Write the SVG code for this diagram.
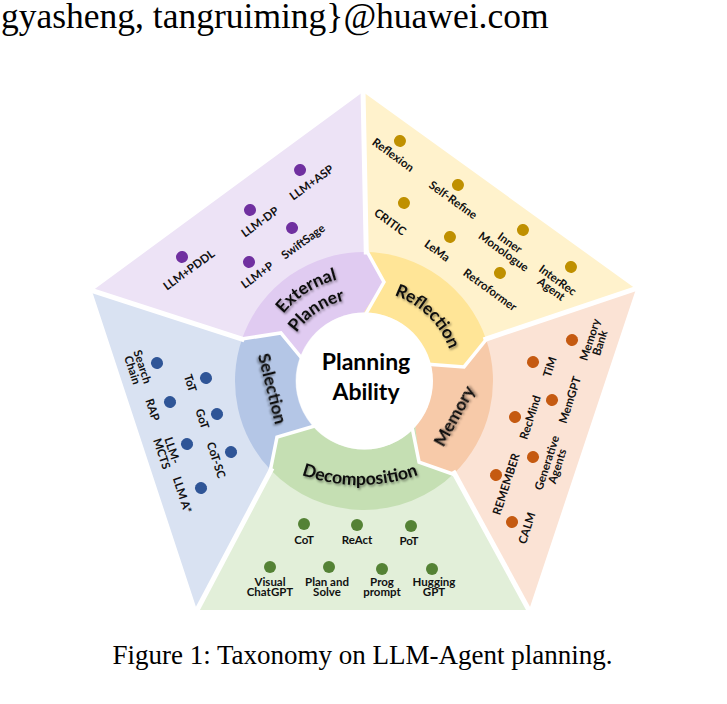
<svg xmlns="http://www.w3.org/2000/svg" width="727" height="704" viewBox="0 0 727 704">
<defs>
<style>
.lbl{font-family:Lato,"Open Sans","Liberation Sans",sans-serif;font-weight:700;font-size:11.5px;fill:#111;text-anchor:middle}
.ring{font-family:Lato,"Open Sans","Liberation Sans",sans-serif;font-weight:700;font-size:17.5px;fill:#111;text-anchor:middle;filter:url(#sh)}
.hub{font-family:Lato,"Open Sans","Liberation Sans",sans-serif;font-weight:700;font-size:23px;fill:#000;text-anchor:middle}
.serif{font-family:"Liberation Serif","Times New Roman",serif;fill:#000}
.gap{fill:none;stroke:#fff;stroke-width:5;stroke-linecap:square}
.bnd{fill:none;stroke:#fff;stroke-width:3.5;stroke-linejoin:miter}
.dE{fill:#7030a0}.dR{fill:#bf9000}.dM{fill:#c55a11}.dD{fill:#548235}.dS{fill:#2f5597}
</style>
<filter id="sh" x="-20%" y="-40%" width="140%" height="180%">
<feDropShadow dx="1.2" dy="1.6" stdDeviation="1.2" flood-color="#000" flood-opacity="0.45"/>
</filter>
<path id="pExt" d="M 259.1,385.6 A 105 105 0 0 1 412.5,287.9"/>
<path id="pPlan" d="M 281.2,386.8 A 83 83 0 0 1 400.4,306.4"/>
<path id="pRef" d="M 339.7,293.3 A 91 91 0 0 1 452.1,403.8"/>
<path id="pDec" d="M 290,470.2 A 173 173 0 0 0 430,470.2"/>
</defs>
<rect width="727" height="704" fill="#fff"/>
<text class="serif" x="1" y="28" font-size="35.5">gyasheng, tangruiming}@huawei.com</text>

<g id="regions">
<polygon id="region-external" fill="#ede3f6" points="92,291 363,92 366.25,252 364,381 242,339"/>
<polygon id="region-reflection" fill="#fff2cc" points="363,92 636,289 486,339 364,381 366.25,252"/>
<polygon id="region-memory" fill="#fbe3d5" points="636,289 529,610 454.3,473.2 364,381 486,339"/>
<polygon id="region-decomposition" fill="#e2efd9" points="529,610 197,610 270.9,470.3 364,381 454.3,473.2"/>
<polygon id="region-selection" fill="#d9e2f2" points="197,610 92,291 242,339 364,381 270.9,470.3"/>
</g>

<g id="ring">
<path id="seg-memory" fill="#f7caa9" d="M 485.97,339 A 129 129 0 0 1 454.26,473.17 L 419.08,462.06 L 415.31,426.39 A 68.5 68.5 0 0 0 430.64,365.13 L 464,366.94 Z"/>
<path id="seg-decomposition" fill="#c5dfb3" d="M 454.26,473.17 A 129 129 0 0 1 270.89,470.28 L 277,437.07 L 312.69,426.39 A 68.5 68.5 0 0 0 415.31,426.39 L 419.08,462.06 Z"/>
<path id="seg-selection" fill="#b4c6e6" d="M 270.89,470.28 A 129 129 0 0 1 242.03,339 L 280.86,333 L 300.05,356.45 A 68.5 68.5 0 0 0 312.69,426.39 L 277,437.07 Z"/>
<path id="seg-external" fill="#e0cbf1" d="M 242.03,339 A 129 129 0 0 1 366.25,252.02 L 383.96,282 L 364,312.5 A 68.5 68.5 0 0 0 300.05,356.45 L 280.86,333 Z"/>
<path id="seg-reflection" fill="#ffe597" d="M 366.25,252.02 A 129 129 0 0 1 485.97,339 L 464,366.94 L 430.64,365.13 A 68.5 68.5 0 0 0 364,312.5 L 383.96,282 Z"/>
</g>

<g id="gaps">
<line class="gap" x1="363" y1="90" x2="366.25" y2="252"/>
<line class="gap" x1="638" y1="288" x2="485.97" y2="339"/>
<line class="gap" x1="530" y1="612" x2="454.26" y2="473.17"/>
<line class="gap" x1="196" y1="612" x2="270.89" y2="470.28"/>
<line class="gap" x1="90" y1="290" x2="242.03" y2="339"/>
<polyline class="bnd" points="366.25,250 383.96,282 363.5,318"/>
<polyline class="bnd" points="487,338.5 464,366.94 425,364"/>
<polyline class="bnd" points="455.5,475 419.08,462.06 411,422"/>
<polyline class="bnd" points="270,472 277,437.07 318,425"/>
<polyline class="bnd" points="240,339.3 280.86,333 304,361"/>
</g>

<g id="hub">
<circle cx="364.5" cy="381" r="68.5" fill="#fff"/>
<text class="hub" x="366" y="370">Planning</text>
<text class="hub" x="366" y="400">Ability</text>
</g>

<g id="ring-labels">
<text class="ring"><textPath href="#pExt" startOffset="50%">External</textPath></text>
<text class="ring"><textPath href="#pPlan" startOffset="50%">Planner</textPath></text>
<text class="ring"><textPath href="#pRef" startOffset="50%">Reflection</textPath></text>
<text class="ring"><textPath href="#pDec" startOffset="50%">Decomposition</textPath></text>
<text class="ring" transform="translate(266.5,390) rotate(76)">Selection</text>
<text class="ring" transform="translate(459.3,418.9) rotate(-61)">Memory</text>
</g>

<g id="external-items">
<g id="llm-asp" transform="translate(300,170) rotate(-36)"><circle r="6" class="dE"/><text class="lbl" x="2" y="21">LLM+ASP</text></g>
<g id="llm-dp" transform="translate(250,210) rotate(-36)"><circle r="6" class="dE"/><text class="lbl" x="1" y="19.5">LLM-DP</text></g>
<g id="swiftsage" transform="translate(292,228) rotate(-36)"><circle r="6" class="dE"/><text class="lbl" x="1" y="21.5">SwiftSage</text></g>
<g id="llm-pddl" transform="translate(182,257) rotate(-36)"><circle r="6" class="dE"/><text class="lbl" x="-2" y="18.5">LLM+PDDL</text></g>
<g id="llm-p" transform="translate(249,262) rotate(-36)"><circle r="6" class="dE"/><text class="lbl" x="-1" y="19.5">LLM+P</text></g>
</g>

<g id="reflection-items">
<g id="reflexion" transform="translate(400,141) rotate(36)"><circle r="6" class="dR"/><text class="lbl" x="2.6" y="19.2">Reflexion</text></g>
<g id="self-refine" transform="translate(458,185) rotate(36)"><circle r="6" class="dR"/><text class="lbl" x="4.8" y="19">Self-Refine</text></g>
<g id="critic" transform="translate(404,203) rotate(36)"><circle r="6" class="dR"/><text class="lbl" x="0" y="27.5">CRITIC</text></g>
<g id="lema" transform="translate(450,237) rotate(36)"><circle r="6" class="dR"/><text class="lbl" x="-2.3" y="22.7">LeMa</text></g>
<g id="inner-monologue" transform="translate(523,230) rotate(36)"><circle r="6" class="dR"/><text class="lbl" x="-3" y="22">Inner<tspan x="-3" dy="11">Monologue</tspan></text></g>
<g id="retroformer" transform="translate(500,273) rotate(36)"><circle r="6" class="dR"/><text class="lbl" x="1.9" y="23.4">Retroformer</text></g>
<g id="interrec" transform="translate(571,267) rotate(36)"><circle r="6" class="dR"/><text class="lbl" x="-3" y="22.5">InterRec<tspan x="-3" dy="11">Agent</tspan></text></g>
</g>

<g id="memory-items">
<g id="memory-bank" transform="translate(572,340) rotate(-72)"><circle r="6" class="dM"/><text class="lbl" x="5.8" y="21">Memory<tspan x="5.8" dy="10.5">Bank</tspan></text></g>
<g id="tim" transform="translate(533,362) rotate(-72)"><circle r="6" class="dM"/><text class="lbl" x="0.5" y="21.5">TiM</text></g>
<g id="memgpt" transform="translate(552,400) rotate(-72)"><circle r="6" class="dM"/><text class="lbl" x="5.6" y="21">MemGPT</text></g>
<g id="recmind" transform="translate(515,417) rotate(-72)"><circle r="6" class="dM"/><text class="lbl" x="4.3" y="18.7">RecMind</text></g>
<g id="generative-agents" transform="translate(533,457) rotate(-72)"><circle r="6" class="dM"/><text class="lbl" x="-1.3" y="19">Generative<tspan x="-1.3" dy="11">Agents</tspan></text></g>
<g id="remember" transform="translate(496,475) rotate(-72)"><circle r="6" class="dM"/><text class="lbl" x="-5.5" y="16.5">REMEMBER</text></g>
<g id="calm" transform="translate(512,522) rotate(-72)"><circle r="6" class="dM"/><text class="lbl" x="-1.1" y="20">CALM</text></g>
</g>

<g id="decomposition-items">
<g id="cot" transform="translate(304,524)"><circle r="6" class="dD"/><text class="lbl" x="0" y="20">CoT</text></g>
<g id="react" transform="translate(357,525)"><circle r="6" class="dD"/><text class="lbl" x="0" y="19">ReAct</text></g>
<g id="pot" transform="translate(411,526)"><circle r="6" class="dD"/><text class="lbl" x="-2" y="19">PoT</text></g>
<g id="visual-chatgpt" transform="translate(270,567)"><circle r="6" class="dD"/><text class="lbl" x="0" y="18.5">Visual<tspan x="0" dy="10.8">ChatGPT</tspan></text></g>
<g id="plan-and-solve" transform="translate(329,567)"><circle r="6" class="dD"/><text class="lbl" x="-2" y="18.5">Plan and<tspan x="-2" dy="10.8">Solve</tspan></text></g>
<g id="prog-prompt" transform="translate(382,569)"><circle r="6" class="dD"/><text class="lbl" x="0" y="16.5">Prog<tspan x="0" dy="10.8">prompt</tspan></text></g>
<g id="hugging-gpt" transform="translate(432,569)"><circle r="6" class="dD"/><text class="lbl" x="2" y="16.5">Hugging<tspan x="2" dy="10.8">GPT</tspan></text></g>
</g>

<g id="selection-items">
<g id="search-chain" transform="translate(157,363) rotate(72)"><circle r="6" class="dS"/><text class="lbl" x="-1" y="19">Search<tspan x="-1" dy="10.5">Chain</tspan></text></g>
<g id="tot" transform="translate(206,378) rotate(72)"><circle r="6" class="dS"/><text class="lbl" x="0" y="20.5">ToT</text></g>
<g id="rap" transform="translate(170,402) rotate(72)"><circle r="6" class="dS"/><text class="lbl" x="2" y="23">RAP</text></g>
<g id="got" transform="translate(217,414) rotate(72)"><circle r="6" class="dS"/><text class="lbl" x="0" y="19.6">GoT</text></g>
<g id="llm-mcts" transform="translate(187,444) rotate(72)"><circle r="6" class="dS"/><text class="lbl" x="1.5" y="20">LLM-<tspan x="1.5" dy="11">MCTS</tspan></text></g>
<g id="cot-sc" transform="translate(231,452) rotate(72)"><circle r="6" class="dS"/><text class="lbl" x="3" y="20.6">CoT-SC</text></g>
<g id="llm-astar" transform="translate(201,488) rotate(72)"><circle r="6" class="dS"/><text class="lbl" x="0.8" y="24">LLM A*</text></g>
</g>

<text class="serif" x="362.5" y="664" font-size="27" text-anchor="middle">Figure 1: Taxonomy on LLM-Agent planning.</text>
</svg>
